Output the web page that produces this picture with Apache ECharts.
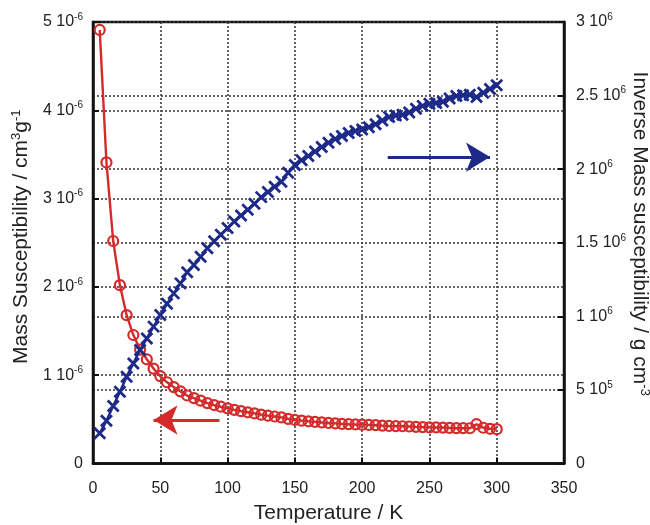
<!DOCTYPE html>
<html>
<head>
<meta charset="utf-8">
<script src="https://cdn.jsdelivr.net/npm/echarts@6/dist/echarts.min.js"></script>
<style>
html,body{margin:0;padding:0;background:#fff;}
#chart{width:650px;height:525px;}
</style>
</head>
<body>
<div id="chart"></div>
<script>
// Temperature (K)
const temps = [5,10,15,20,25,30,35,40,45,50,55,60,65,70,75,80,85,90,95,100,
  105,110,115,120,125,130,135,140,145,150,155,160,165,170,175,180,185,190,195,200,
  205,210,215,220,225,230,235,240,245,250,255,260,265,270,275,280,285,290,295,300];
// Mass susceptibility (units of 1e-6 cm^3 g^-1)
const chi = [4.91,3.41,2.52,2.02,1.68,1.455,1.29,1.18,1.075,0.99,0.92,0.865,0.817,0.77,0.741,0.712,0.684,0.662,0.643,0.625,
  0.608,0.593,0.58,0.567,0.553,0.542,0.532,0.522,0.506,0.493,0.485,0.478,0.472,0.465,0.459,0.454,0.449,0.445,0.442,0.44,
  0.437,0.434,0.429,0.425,0.423,0.422,0.419,0.415,0.412,0.409,0.408,0.407,0.403,0.4,0.4,0.399,0.445,0.405,0.393,0.389];
// Inverse mass susceptibility (units of 1e6 g cm^-3)
const invChi = [0.205,0.29,0.39,0.488,0.59,0.68,0.771,0.85,0.93,1.009,1.085,1.156,1.224,1.3,1.349,1.405,1.462,1.51,1.555,1.6,
  1.645,1.685,1.725,1.765,1.81,1.845,1.88,1.915,1.975,2.028,2.06,2.09,2.12,2.15,2.18,2.205,2.225,2.245,2.26,2.27,
  2.285,2.305,2.33,2.355,2.365,2.37,2.385,2.41,2.43,2.445,2.45,2.458,2.48,2.497,2.503,2.505,2.49,2.52,2.545,2.57];
// Tick labels [mantissa, exponent]
const leftTickLabels = [['0',''],['1','-6'],['2','-6'],['3','-6'],['4','-6'],['5','-6']];
const rightTickLabels = [['0',''],['5','5'],['1','6'],['1.5','6'],['2','6'],['2.5','6'],['3','6']];
// Arrow annotations: [xStart, xEnd, y]
const redArrow = [94, 45, 0.493];
const blueArrow = [219, 295, 2.082];

const FONT = '"Liberation Sans", Arial, sans-serif';
const TXT = '#222';
const RED = '#d42a2a';
const BLUE = '#1e2a8a';

const tickRich = {
  n: {fontSize: 16, color: TXT, fontFamily: FONT},
  s: {fontSize: 10, color: TXT, fontFamily: FONT, padding: [0, 0, 10, 0]}
};
const nameRich = {
  a: {fontSize: 21, color: TXT, fontFamily: FONT},
  s: {fontSize: 13, color: TXT, fontFamily: FONT, padding: [0, 0, 10, 0]}
};
function fmt(pair) {
  return pair[1] ? '{n|' + pair[0] + ' 10}{s|' + pair[1] + '}' : '{n|' + pair[0] + '}';
}
const gridLine = {show: true, lineStyle: {type: [2, 2], color: '#333', width: 1.5}};
const axisLine = {show: true, lineStyle: {color: '#111', width: 2.5}};
const axisTick = {show: true, inside: true, length: 6, lineStyle: {color: '#111', width: 2}};

const chart = echarts.init(document.getElementById('chart'), null, {renderer: 'canvas'});
chart.setOption({
  animation: false,
  backgroundColor: '#fff',
  grid: {left: 93, right: 86, top: 22, bottom: 61.5, show: true, borderColor: '#111', borderWidth: 2.5,
    containLabel: false, outerBoundsMode: 'none'},
  xAxis: {
    type: 'value', min: 0, max: 350, interval: 50,
    name: 'Temperature / K', nameLocation: 'middle', nameGap: 39, nameMoveOverlap: false,
    nameTextStyle: {fontSize: 21, color: TXT, fontFamily: FONT},
    axisLine: axisLine, axisTick: axisTick, splitLine: gridLine,
    axisLabel: {fontSize: 16, color: TXT, fontFamily: FONT, margin: 17}
  },
  yAxis: [{
    type: 'value', min: 0, max: 5, interval: 1, position: 'left',
    name: '{a|Mass Susceptibility / cm}{s|3}{a|g}{s|-1}', nameLocation: 'middle', nameGap: 60, nameMoveOverlap: false,
    nameTextStyle: {fontSize: 21, color: TXT, fontFamily: FONT, rich: nameRich, padding: [0, 0, 0, 12]},
    axisLine: axisLine, axisTick: axisTick, splitLine: gridLine,
    axisLabel: {margin: 10, formatter: v => fmt(leftTickLabels[Math.round(v)]), rich: tickRich}
  }, {
    type: 'value', min: 0, max: 3, interval: 0.5, position: 'right',
    name: '{a|Inverse Mass susceptibility / g cm}{s|-3}', nameLocation: 'middle', nameGap: 64, nameRotate: -90, nameMoveOverlap: false,
    nameTextStyle: {fontSize: 21, color: TXT, fontFamily: FONT, rich: nameRich, padding: [0, 18, 0, 0]},
    axisLine: axisLine, axisTick: axisTick, splitLine: gridLine,
    axisLabel: {margin: 12, formatter: v => fmt(rightTickLabels[Math.round(v * 2)]), rich: tickRich}
  }],
  series: [{
    type: 'line', yAxisIndex: 0,
    data: temps.map((t, i) => [t, chi[i]]),
    symbol: 'circle', symbolSize: 10,
    lineStyle: {color: RED, width: 2.4},
    itemStyle: {color: 'rgba(255,255,255,0)', borderColor: RED, borderWidth: 2.2},
    emphasis: {disabled: true}, silent: true, z: 2,
    markLine: {
      silent: true, symbol: ['none', 'arrow'], symbolSize: [22, 24],
      label: {show: false},
      lineStyle: {color: RED, width: 3, type: 'solid'},
      data: [[{coord: [redArrow[0], redArrow[2]]}, {coord: [redArrow[1], redArrow[2]]}]]
    }
  }, {
    type: 'line', yAxisIndex: 1,
    data: temps.map((t, i) => [t, invChi[i]]),
    symbol: 'path://M0,0L10,10M10,0L0,10', symbolSize: 11,
    lineStyle: {color: BLUE, width: 2.5},
    itemStyle: {color: BLUE, borderColor: BLUE, borderWidth: 2.8},
    emphasis: {disabled: true}, silent: true, z: 3,
    markLine: {
      silent: true, symbol: ['none', 'arrow'], symbolSize: [22, 24],
      label: {show: false},
      lineStyle: {color: BLUE, width: 3, type: 'solid'},
      data: [[{coord: [blueArrow[0], blueArrow[2]]}, {coord: [blueArrow[1], blueArrow[2]]}]]
    }
  }]
});
</script>
</body>
</html>
